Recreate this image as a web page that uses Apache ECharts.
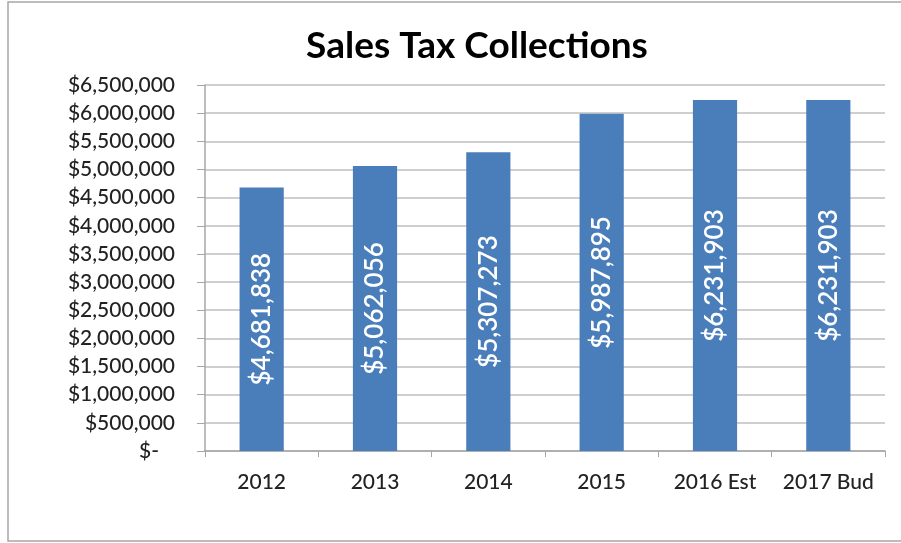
<!DOCTYPE html>
<html>
<head>
<meta charset="utf-8">
<script src="https://cdn.jsdelivr.net/npm/echarts@6/dist/echarts.min.js"></script>
<style>
  html, body { margin: 0; padding: 0; background: #fff; }
  #chart { width: 901px; height: 543px; }
</style>
</head>
<body>
<div id="chart"></div>
<script>
const categories = ["2012", "2013", "2014", "2015", "2016 Est", "2017 Bud"];
const collections = [4681838, 5062056, 5307273, 5987895, 6231903, 6231903];
const yMin = 0;
const yMax = 6500000;
const yStep = 500000;

const money = (v) => (v === 0 ? "$-   " : "$" + v.toLocaleString("en-US"));

const chart = echarts.init(document.getElementById("chart"));

chart.setOption({
  animation: false,
  textStyle: { fontFamily: "Lato" },
  title: {
    text: "Sales Tax Collections",
    left: 472,
    top: 23,
    textAlign: "center",
    textStyle: { fontSize: 37, fontWeight: "bold", color: "#000", fontFamily: "Lato" },
  },
  graphic: [
    {
      type: "polyline",
      shape: { points: [[901, 2], [8, 2], [8, 541], [901, 541]] },
      style: { stroke: "#a6a6a6", lineWidth: 1.5, fill: null },
    },
  ],
  grid: { left: 205, right: 16, top: 85, bottom: 92 },
  xAxis: {
    type: "category",
    data: categories,
    axisLine: { lineStyle: { color: "#a6a6a6", width: 1.5 } },
    axisTick: { show: true, length: 6, lineStyle: { color: "#a6a6a6" } },
    axisLabel: { interval: 0, color: "#222", fontSize: 21, fontWeight: 500, margin: 21 },
  },
  yAxis: {
    type: "value",
    min: yMin,
    max: yMax,
    interval: yStep,
    axisLine: { show: true, lineStyle: { color: "#a6a6a6", width: 1.5 } },
    axisTick: { show: true, length: 8, lineStyle: { color: "#a6a6a6" } },
    splitLine: { lineStyle: { color: "#bfbfbf", width: 1.5 } },
    axisLabel: { color: "#222", fontSize: 21, fontWeight: 500, margin: 30, formatter: money },
  },
  series: [
    {
      type: "bar",
      data: collections,
      barWidth: "39%",
      itemStyle: { color: "#4a7ebb" },
      label: {
        show: true,
        position: "inside",
        rotate: 90,
        color: "#fff",
        fontSize: 26,
        fontWeight: 600,
        fontFamily: "Lato",
        formatter: (p) => money(p.value),
      },
    },
  ],
});
</script>
</body>
</html>
